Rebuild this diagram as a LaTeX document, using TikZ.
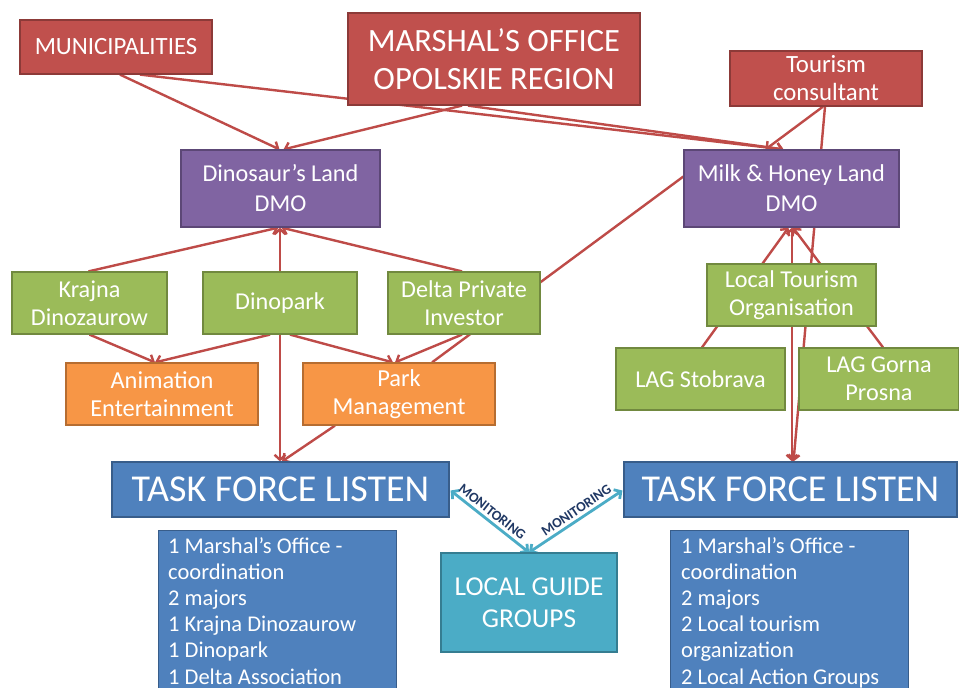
\documentclass[tikz,border=0pt]{standalone}
\usepackage{fontspec}
\setmainfont{Carlito}
\usetikzlibrary{arrows.meta,backgrounds}
\definecolor{redF}{HTML}{C0504D}
\definecolor{redD}{HTML}{8C3A38}
\definecolor{purF}{HTML}{8064A2}
\definecolor{purD}{HTML}{5C4776}
\definecolor{grnF}{HTML}{9BBB59}
\definecolor{grnD}{HTML}{71893F}
\definecolor{orgF}{HTML}{F79646}
\definecolor{orgD}{HTML}{B66D31}
\definecolor{bluF}{HTML}{4F81BD}
\definecolor{bluD}{HTML}{385D8A}
\definecolor{cyaF}{HTML}{4BACC6}
\definecolor{cyaD}{HTML}{357D91}
\definecolor{arrC}{HTML}{BE4B48}
\definecolor{navyT}{HTML}{203864}
\newcommand\fz[2]{\fontsize{#1}{#2}\selectfont}
\tikzset{
  basebox/.style={rectangle, line width=1.2pt, inner sep=0pt, text=white, align=center},
  redbox/.style={basebox, fill=redF, draw=redD},
  purbox/.style={basebox, fill=purF, draw=purD},
  grnbox/.style={basebox, fill=grnF, draw=grnD},
  orgbox/.style={basebox, fill=orgF, draw=orgD},
  blubox/.style={basebox, fill=bluF, draw=bluD},
  cyabox/.style={basebox, fill=cyaF, draw=cyaD},
  arr/.style={draw=arrC, line width=2.4pt, -{Straight Barb[length=5pt,width=11pt,line width=2.4pt]}},
  dblarr/.style={draw=arrC, line width=2.4pt, {Straight Barb[length=5pt,width=11pt,line width=2.4pt]}-{Straight Barb[length=5pt,width=11pt,line width=2.4pt]}},
  plainline/.style={draw=arrC, line width=2.4pt},
  monarr/.style={draw=cyaF, line width=2.8pt, {Straight Barb[length=5pt,width=11pt,line width=2.8pt]}-{Straight Barb[length=5pt,width=11pt,line width=2.8pt]}},
  monlab/.style={sloped, above=3pt, inner sep=0pt, text=navyT, font=\bfseries\fz{14}{14}}
}
\begin{document}
\begin{tikzpicture}[x=1pt,y=-1pt]
\useasboundingbox (0,0) rectangle (959,688);
\clip (0,0) rectangle (959,688);
% top level
\node[redbox, minimum width=192pt, minimum height=54pt, font=\fz{24.8}{28}] (muni) at (116,47) {MUNICIPALITIES};
\node[redbox, minimum width=292pt, minimum height=92pt, font=\fz{32.5}{38}] (marshal) at (494,59) {MARSHAL’S OFFICE\\OPOLSKIE REGION};
\node[redbox, minimum width=192pt, minimum height=55pt, font=\fz{24.8}{28}] (tour) at (826,78.5) {Tourism\\consultant};
% DMOs
\node[purbox, minimum width=199pt, minimum height=77pt, font=\fz{24.2}{30}] (dino) at (280.5,188.5) {Dinosaur’s Land\\DMO};
\node[purbox, minimum width=215pt, minimum height=77pt, font=\fz{24.3}{30}] (milk) at (791.5,188.5) {Milk \& Honey Land\\DMO};
% left green
\node[grnbox, minimum width=155pt, minimum height=62pt, font=\fz{24.2}{28}] (krajna) at (89.5,303) {Krajna\\Dinozaurow};
\node[grnbox, minimum width=154pt, minimum height=62pt, font=\fz{24.2}{28}] (dinopark) at (280,303) {Dinopark};
\node[grnbox, minimum width=152pt, minimum height=62pt, font=\fz{24.2}{28}] (delta) at (464,303) {Delta Private\\Investor};
% orange
\node[orgbox, minimum width=192pt, minimum height=62pt, font=\fz{24.4}{28}] (anim) at (162,394) {Animation\\Entertainment};
\node[orgbox, minimum width=192pt, minimum height=62pt, font=\fz{24.4}{28}] (park) at (399,394) {Park\\Management};
% right green
\node[grnbox, minimum width=169pt, minimum height=62pt, font=\fz{24.2}{28}] (lto) at (791.5,295) {Local Tourism\\Organisation};
\node[grnbox, minimum width=169pt, minimum height=62pt, font=\fz{24.2}{28}] (stob) at (700.5,379) {LAG Stobrava};
\node[grnbox, minimum width=160pt, minimum height=62pt, font=\fz{24.2}{28}] (gorna) at (879,379) {LAG Gorna\\Prosna};
% task forces
\node[blubox, minimum width=337pt, minimum height=55pt, font=\fz{38}{40}] (tfl) at (280.5,489.5) {TASK FORCE LISTEN};
\node[blubox, minimum width=333pt, minimum height=55pt, font=\fz{38}{40}] (tfr) at (790.5,489.5) {TASK FORCE LISTEN};
% lists
\node[blubox, anchor=north west, minimum width=238pt, minimum height=170pt] (listl) at (158,530) {};
\node[blubox, anchor=north west, minimum width=238pt, minimum height=170pt] (listr) at (670,530) {};
\node[anchor=north west, inner sep=0pt, text=white, align=left, font=\fz{22.5}{26.2}] (ltxt) at (168,537)
  {1 Marshal’s Office -\\coordination\\2 majors\\1 Krajna Dinozaurow\\1 Dinopark\\1 Delta Association};
\node[anchor=north west, inner sep=0pt, text=white, align=left, font=\fz{22.5}{26.2}] (rtxt) at (681,537)
  {1 Marshal’s Office -\\coordination\\2 majors\\2 Local tourism\\organization\\2 Local Action Groups};
% local guide
\node[cyabox, minimum width=176pt, minimum height=99pt, font=\fz{27.3}{32}] (lgg) at (529,602.5) {LOCAL GUIDE\\GROUPS};

\begin{scope}[on background layer]
\fill[white] (0,0) rectangle (959,688);
% top connectors
\path[arr] ([xshift=4]muni.south) -- ([xshift=-1]dino.north);
\path[arr] ([xshift=24]muni.south) -- ([xshift=-8]milk.north);
\path[arr] ([xshift=-32]marshal.south) -- ([xshift=3]dino.north);
\path[arr] ([xshift=-26]marshal.south) -- ([xshift=-8]milk.north);
\path[arr] ([xshift=-3]tour.south) -- ([xshift=-26]milk.north);
\path[arr] ([xshift=-1]tour.south) -- ([xshift=3]tfr.north);
% left side
\path[arr] ([xshift=-1]krajna.north) -- ([xshift=-2]dino.south);
\path[arr] (dinopark.north) -- ([xshift=-0.5]dino.south);
\path[arr] ([xshift=-2]delta.north) -- ([xshift=1]dino.south);
\path[arr] (krajna.south) -- ([xshift=-7]anim.north);
\path[arr] ([xshift=-10]dinopark.south) -- ([xshift=-7]anim.north);
\path[arr] ([xshift=10]dinopark.south) -- ([xshift=-6]park.north);
\path[arr] ([xshift=-2]delta.south) -- ([xshift=-4]park.north);
\path[arr] (dinopark.south) -- ([xshift=-0.5]tfl.north);
\path[arr] ([xshift=-64]park.south) -- ([xshift=1.5]tfl.north);
\path[plainline] ([yshift=12]milk.west) -- ([xshift=33]park.north);
% right side
\path[arr] ([xshift=1.5]stob.north) -- ([xshift=-3]milk.south);
\path[arr] ([xshift=4]gorna.north) -- ([xshift=1.5]milk.south);
\path[dblarr] ([xshift=0.5]milk.south) -- ([xshift=1.5]tfr.north);
% monitoring
\path[monarr] ([xshift=1,yshift=-1]tfl.east) -- node[monlab, pos=0.46] {MONITORING} (lgg.north);
\path[monarr] (lgg.north) -- node[monlab, pos=0.56] {MONITORING} ([xshift=-1,yshift=-1]tfr.west);
\end{scope}
\end{tikzpicture}
\end{document}
